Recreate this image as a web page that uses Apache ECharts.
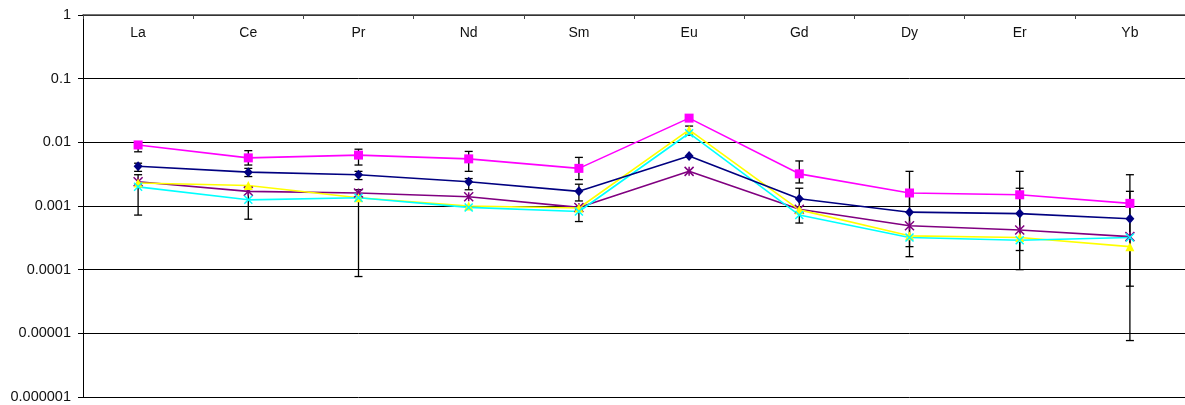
<!DOCTYPE html>
<html><head><meta charset="utf-8">
<script src="https://cdn.jsdelivr.net/npm/echarts@6/dist/echarts.min.js"></script>
<style>html,body{margin:0;padding:0;background:#fff}#c{width:1185px;height:405px}</style>
</head><body><div id="c"></div>
<script>
const categories = ['La','Ce','Pr','Nd','Sm','Eu','Gd','Dy','Er','Yb'];
const yTickLabels = ['1','0.1','0.01','0.001','0.0001','0.00001','0.000001'];
const magentaVals = [0.0091,0.0057,0.0063,0.0055,0.0039,0.024,0.0032,0.0016,0.0015,0.0011];
const navyVals    = [0.0042,0.0034,0.0031,0.0024,0.0017,0.0061,0.0013,0.00080,0.00076,0.00063];
const yellowVals  = [0.0023,0.0021,0.00135,0.0010,0.00093,0.0157,0.00087,0.00034,0.00032,0.00023];
const cyanVals    = [0.0020,0.00125,0.00135,0.00095,0.00082,0.0139,0.00072,0.00032,0.00029,0.00032];
const purpleVals  = [0.0024,0.0017,0.0016,0.0014,0.00095,0.0035,0.00089,0.00049,0.00042,0.00033];
// error bars: [category index, low, high]
const errorBars = [
  [0,0.0071,0.0091],[0,0.0035,0.0047],[0,0.00072,0.0031],
  [1,0.0044,0.0074],[1,0.0029,0.0039],[1,0.00062,0.0020],
  [2,0.0044,0.0078],[2,0.0026,0.0035],[2,0.000078,0.0018],
  [3,0.0035,0.0072],[3,0.0018,0.0027],
  [4,0.0026,0.0058],[4,0.0012,0.0022],[4,0.00057,0.0009],
  [5,0.013,0.018],
  [6,0.0023,0.0051],[6,0.00054,0.0019],
  [7,0.00023,0.0035],[7,0.00016,0.0016],
  [8,0.00020,0.0035],[8,0.0001,0.0019],
  [9,0.000055,0.0031],[9,0.0000077,0.0017]
];

const chart = echarts.init(document.getElementById('c'), null, {renderer:'canvas'});
const font = 'Liberation Sans, Arial, sans-serif';
function lineSeries(name, data, color, symbol, size, extra) {
  return Object.assign({
    name, type:'line', data, symbol, symbolSize:size, z:3,
    lineStyle:{color, width:1.6},
    itemStyle:{color, borderColor:color, borderWidth:0},
    emphasis:{disabled:true}, animation:false
  }, extra||{});
}
chart.setOption({
  animation:false,
  grid:{left:83, right:-5, top:15, bottom:8, containLabel:false},
  xAxis:{
    type:'category', data:categories, position:'top', boundaryGap:true,
    axisLine:{show:true, lineStyle:{color:'#444', width:1.5}},
    axisTick:{show:true, inside:true, length:4, lineStyle:{color:'#444'}},
    axisLabel:{inside:true, margin:11, color:'#111', fontSize:14, fontFamily:font},
    splitLine:{show:false}
  },
  yAxis:{
    type:'log', logBase:10, min:0.000001, max:1,
    axisLine:{show:true, lineStyle:{color:'#000', width:1}},
    axisTick:{show:true, length:5, lineStyle:{color:'#000'}},
    axisLabel:{color:'#111', fontSize:14.5, fontFamily:font, margin:12,
      formatter:function(v){ const e = Math.round(Math.log10(v)); return yTickLabels[-e]; }},
    splitLine:{show:true, lineStyle:{color:'#000', width:1}}
  },
  series:[
    {
      type:'custom', data:errorBars, z:2, animation:false,
      encode:{x:0, y:[1,2]},
      renderItem:function(params, api){
        const c = api.value(0);
        const lo = api.coord([c, api.value(1)]);
        const hi = api.coord([c, api.value(2)]);
        const w = 4;
        const st = {stroke:'#000', lineWidth:1.3};
        return {type:'group', children:[
          {type:'line', shape:{x1:lo[0],y1:lo[1],x2:hi[0],y2:hi[1]}, style:st},
          {type:'line', shape:{x1:lo[0]-w,y1:lo[1],x2:lo[0]+w,y2:lo[1]}, style:st},
          {type:'line', shape:{x1:hi[0]-w,y1:hi[1],x2:hi[0]+w,y2:hi[1]}, style:st}
        ]};
      }
    },
    lineSeries('purple', purpleVals, '#800080', 'path://M0,0L10,10M10,0L0,10M5,0L5,10', 9,
      {itemStyle:{color:'#800080', borderColor:'#800080', borderWidth:1.5}}),
    lineSeries('yellow', yellowVals, '#FFFF00', 'triangle', 9),
    lineSeries('cyan', cyanVals, '#00FFFF', 'path://M0,0L10,10M10,0L0,10', 8,
      {itemStyle:{color:'#00FFFF', borderColor:'#00FFFF', borderWidth:1.5}}),
    lineSeries('navy', navyVals, '#000080', 'diamond', [9,10]),
    lineSeries('magenta', magentaVals, '#FF00FF', 'rect', 9)
  ]
});
</script></body></html>
